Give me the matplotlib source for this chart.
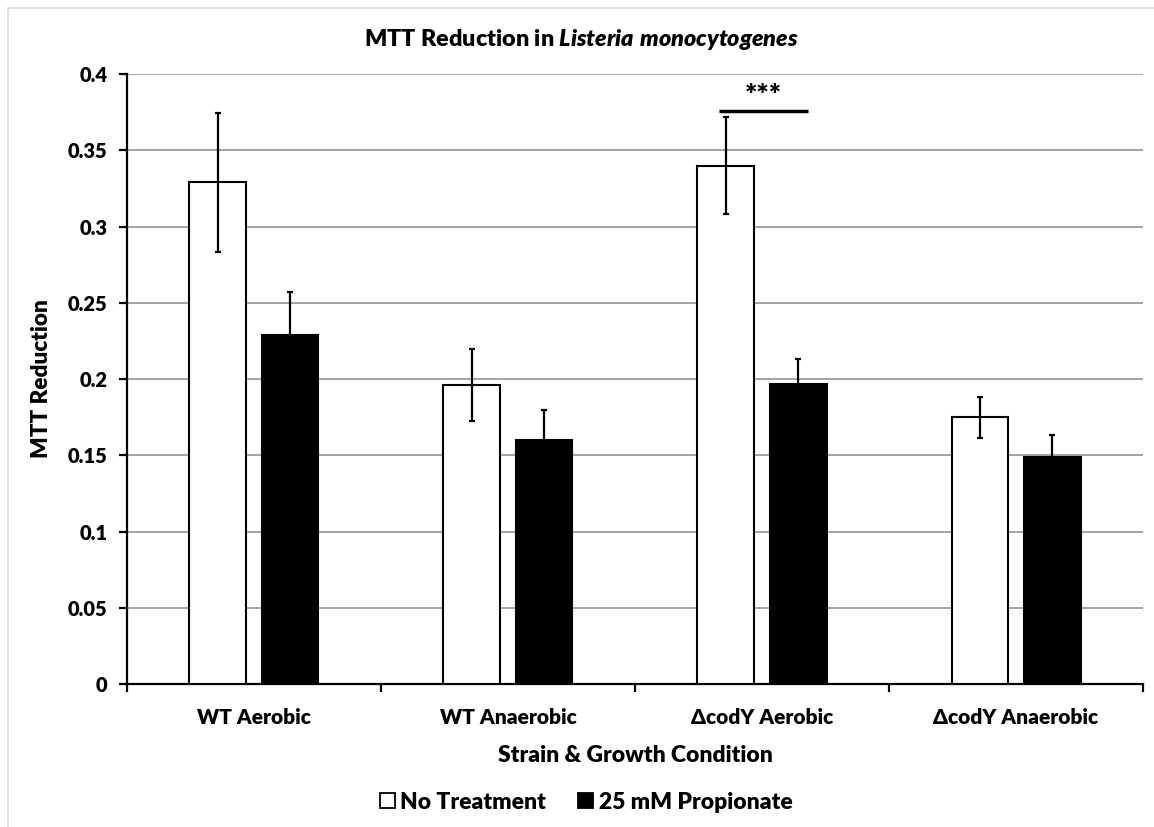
import matplotlib
matplotlib.use("Agg")
import matplotlib.pyplot as plt
from matplotlib.patches import Patch, Rectangle
import numpy as np

plt.rcParams['font.family'] = ['Lato', 'DejaVu Sans']
plt.rcParams['font.weight'] = 'heavy'
plt.rcParams['mathtext.fontset'] = 'custom'
plt.rcParams['mathtext.it'] = 'Lato:italic:heavy'
plt.rcParams['mathtext.rm'] = 'Lato:heavy'

# MTT reduction per strain / growth condition
conditions = ["WT Aerobic", "WT Anaerobic", "\u0394codY Aerobic", "\u0394codY Anaerobic"]
no_treat = [0.329, 0.196, 0.340, 0.175]
no_treat_err = [0.0455, 0.0235, 0.0315, 0.0135]
propionate = [0.229, 0.160, 0.197, 0.149]
propionate_err = [0.028, 0.020, 0.016, 0.014]
yticks = [0, 0.05, 0.1, 0.15, 0.2, 0.25, 0.3, 0.35, 0.4]

fig = plt.figure(figsize=(11.54, 8.27), dpi=100)
ax = fig.add_axes([0.110, 0.1729, 0.8805, 0.7376])

x = np.arange(len(conditions))
w = 0.224
off = 0.142
err_kw = dict(elinewidth=1.6, capsize=2.5, capthick=1.6, ecolor='black')
ax.bar(x - off, no_treat, w, color='white', edgecolor='black', linewidth=1.5,
       yerr=no_treat_err, error_kw=err_kw, zorder=3)
ax.bar(x + off, propionate, w, color='black', edgecolor='black', linewidth=1.5,
       yerr=propionate_err, error_kw=err_kw, zorder=3)

# significance bar over the codY aerobic pair
ax.plot([1.83, 2.18], [0.3758, 0.3758], color='black', lw=2.5, zorder=4,
        solid_capstyle='butt')
ax.text(2.005, 0.3855, "***", ha='center', va='center', fontsize=21,
        fontweight='heavy')

ax.set_xlim(-0.5, 3.5)
ax.set_ylim(0, 0.4)
ax.set_yticks(yticks)
ax.set_yticklabels([f"{v:g}" for v in yticks])
ax.yaxis.grid(True, color='#8c8c8c', linewidth=1.1, zorder=0)
ax.set_axisbelow(True)

ax.set_xticks(x)
ax.set_xticklabels(conditions)
ax.set_xticks(np.arange(-0.5, 4.0, 1.0), minor=True)
ax.tick_params(axis='x', which='major', length=0, pad=17, labelsize=15)
ax.tick_params(axis='x', which='minor', length=6, width=1.6, direction='out')
ax.tick_params(axis='y', length=6, width=1.6, direction='out', labelsize=14.5, pad=8)

for s in ['top', 'right']:
    ax.spines[s].set_visible(False)
for s in ['left', 'bottom']:
    ax.spines[s].set_linewidth(1.6)

ax.set_xlabel("Strain & Growth Condition", fontsize=16.5, fontweight='heavy', labelpad=13)
ax.set_ylabel("MTT Reduction", fontsize=16.2, fontweight='heavy', labelpad=11)

fig.text(0.504, 0.952, r"MTT Reduction in $\it{Listeria\ monocytogenes}$",
         ha='center', va='center', fontsize=16.8, fontweight='heavy')

handles = [Patch(facecolor='white', edgecolor='black', linewidth=1.3, label='No Treatment'),
           Patch(facecolor='black', edgecolor='black', linewidth=1.3, label='25 mM Propionate')]
fig.legend(handles=handles, loc='center', bbox_to_anchor=(0.508, 0.030), ncol=2,
           frameon=False, fontsize=16.5, handlelength=0.65, handleheight=0.65,
           handletextpad=0.25, columnspacing=1.4)

# light frame around the chart area
fig.patches.append(Rectangle((8 / 1154, -0.1), 1.2, 1 - 8 / 827 + 0.1,
                             transform=fig.transFigure, fill=False,
                             edgecolor='#d9d9d9', linewidth=1.2))

fig.savefig("out.png", dpi=100, facecolor='white')
